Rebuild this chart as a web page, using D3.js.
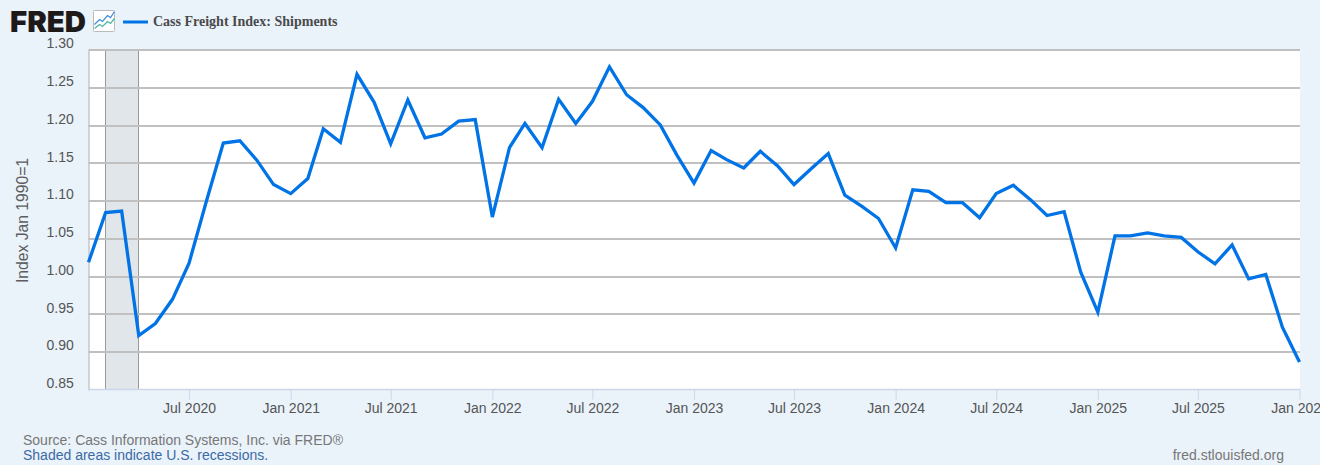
<!DOCTYPE html>
<html>
<head>
<meta charset="utf-8">
<script src="https://cdn.jsdelivr.net/npm/d3@7/dist/d3.min.js"></script>
<style>
html,body{margin:0;padding:0;background:#eaf2fa;overflow:hidden}
svg{display:block}
text{font-family:"Liberation Sans",Arial,sans-serif}
</style>
</head>
<body>
<svg id="chart" width="1320" height="465"></svg>
<script>
const startMonth = "2020-01";
const shipments = [
 1.019,1.085,1.087,0.922,0.938,0.970,1.018,1.099,1.177,1.180,1.154,1.122,
 1.110,1.130,1.196,1.178,1.268,1.231,1.176,1.234,1.184,1.189,1.206,1.208,
 1.079,1.171,1.203,1.171,1.235,1.203,1.232,1.278,1.241,1.224,1.201,1.161,
 1.124,1.167,1.155,1.144,1.166,1.147,1.122,1.143,1.163,1.108,1.093,1.077,
 1.038,1.115,1.113,1.098,1.098,1.078,1.110,1.121,1.102,1.081,1.086,1.006,
 0.953,1.054,1.054,1.058,1.054,1.052,1.033,1.017,1.042,0.997,1.003,0.933,
 0.887
];
const yTicks = [0.85,0.90,0.95,1.00,1.05,1.10,1.15,1.20,1.25,1.30];
const xTickDates = ["2020-07","2021-01","2021-07","2022-01","2022-07","2023-01","2023-07","2024-01","2024-07","2025-01","2025-07","2026-01"];
const recessions = [["2020-02","2020-04"]];
const seriesName = "Cass Freight Index: Shipments";
const yTitle = "Index Jan 1990=1";
const sourceNote = "Source: Cass Information Systems, Inc. via FRED\u00AE";
const recessionNote = "Shaded areas indicate U.S. recessions.";
const siteNote = "fred.stlouisfed.org";

const parse = d3.utcParse("%Y-%m");
const fmtTick = d3.utcFormat("%b %Y");
const start = parse(startMonth);
const points = shipments.map((v,i)=>({date:d3.utcMonth.offset(start,i),value:v}));

const L=88.5,R=1300,T=50.2,B=389.9,axisY=389.5;
const x=d3.scaleUtc().domain([start,parse("2026-01")]).range([L,R-0.5]);
const y=d3.scaleLinear().domain([0.85,1.30]).range([B,T]);
const svg=d3.select("#chart");

svg.append("rect").attr("x",L).attr("y",T).attr("width",R-L).attr("height",axisY-T).attr("fill","#fff");

// recession bands
const bands=svg.append("g");
recessions.forEach(([a,b])=>{
  const x0=x(parse(a)),x1=x(parse(b));
  bands.append("rect").attr("x",x0).attr("y",T).attr("width",x1-x0).attr("height",axisY-T).attr("fill","#e1e6ea");
  [x0,x1].forEach(px=>bands.append("line").attr("x1",Math.floor(px)+0.5).attr("x2",Math.floor(px)+0.5).attr("y1",T).attr("y2",axisY).attr("stroke","#999").attr("stroke-width",1));
});

// grid + y labels
const yAxis=d3.axisLeft(y).tickValues(yTicks).tickSize(0).tickFormat(d3.format(".2f"));
const gy=svg.append("g").attr("transform",`translate(${L},0)`).call(yAxis);
gy.select(".domain").attr("stroke","#aaa").attr("stroke-width",1);
gy.selectAll("text").attr("x",-14.8).attr("dy","-2.3px").attr("font-size",14).attr("fill","#555").style("font-family",'"Liberation Sans",Arial,sans-serif');
const grid=svg.append("g");
grid.selectAll("line").data(yTicks.filter(d=>d>0.85)).join("line")
  .attr("x1",L).attr("x2",R).attr("y1",d=>Math.round(y(d))).attr("y2",d=>Math.round(y(d)))
  .attr("stroke","#c0c0c0").attr("stroke-width",2);

// x axis
const xAxis=d3.axisBottom(x).tickValues(xTickDates.map(parse)).tickSize(10).tickPadding(4).tickFormat(fmtTick);
const gx=svg.append("g").attr("transform",`translate(0,${axisY})`).call(xAxis);
gx.select(".domain").remove();
gx.selectAll("line").attr("stroke","#ccd6eb");
gx.selectAll("text").attr("font-size",14).attr("fill","#555").style("font-family",'"Liberation Sans",Arial,sans-serif');
svg.append("line").attr("x1",L).attr("x2",R).attr("y1",axisY).attr("y2",axisY).attr("stroke","#ccd6eb").attr("stroke-width",1.5);

// series
const line=d3.line().x(d=>x(d.date)).y(d=>y(d.value));
svg.append("path").datum(points).attr("d",line).attr("fill","none").attr("stroke","#0073e6").attr("stroke-width",3.3).attr("stroke-linejoin","miter");

// y title
svg.append("text").attr("transform","translate(23.5,220.5) rotate(-90)").attr("text-anchor","middle").attr("dominant-baseline","middle")
  .attr("font-size",15.7).attr("fill","#5c5c5c").text(yTitle);

// logo
svg.append("text").attr("x",10).attr("y",31.7).attr("font-size",29).attr("font-weight",900).attr("fill","#1e1a1a")
  .style("font-family","Inter,'Liberation Sans',sans-serif").attr("textLength",76).attr("lengthAdjust","spacingAndGlyphs").text("FRED");
const icon=svg.append("g").attr("transform","translate(93.5,10.5)");
icon.append("rect").attr("width",21).attr("height",21).attr("fill","#fff").attr("stroke","#bbb").attr("stroke-width",1).attr("rx",1);
icon.append("path").attr("d","M1 14 L6 9 L9 11 L14 5 L17 7 L21 1").attr("fill","none").attr("stroke","#3d8fdc").attr("stroke-width",1.3);
icon.append("path").attr("d","M1 18 L6 14 L9 16 L14 11 L17 13 L21 8").attr("fill","none").attr("stroke","#4cb8a0").attr("stroke-width",1.3);

// legend
svg.append("line").attr("x1",123).attr("x2",148).attr("y1",22).attr("y2",22).attr("stroke","#0073e6").attr("stroke-width",3);
svg.append("text").attr("x",153).attr("y",26).attr("font-size",14).attr("font-weight",700).attr("fill","#4a4a4a")
  .style("font-family",'"Liberation Serif",serif').text(seriesName);

// footer
svg.append("text").attr("x",23).attr("y",445).attr("font-size",14).attr("fill","#777").text(sourceNote);
svg.append("text").attr("x",23).attr("y",460).attr("font-size",14).attr("fill","#3b6aa5").text(recessionNote);
svg.append("text").attr("x",1284).attr("y",460).attr("text-anchor","end").attr("font-size",14).attr("fill","#777").text(siteNote);
</script>
</body>
</html>
